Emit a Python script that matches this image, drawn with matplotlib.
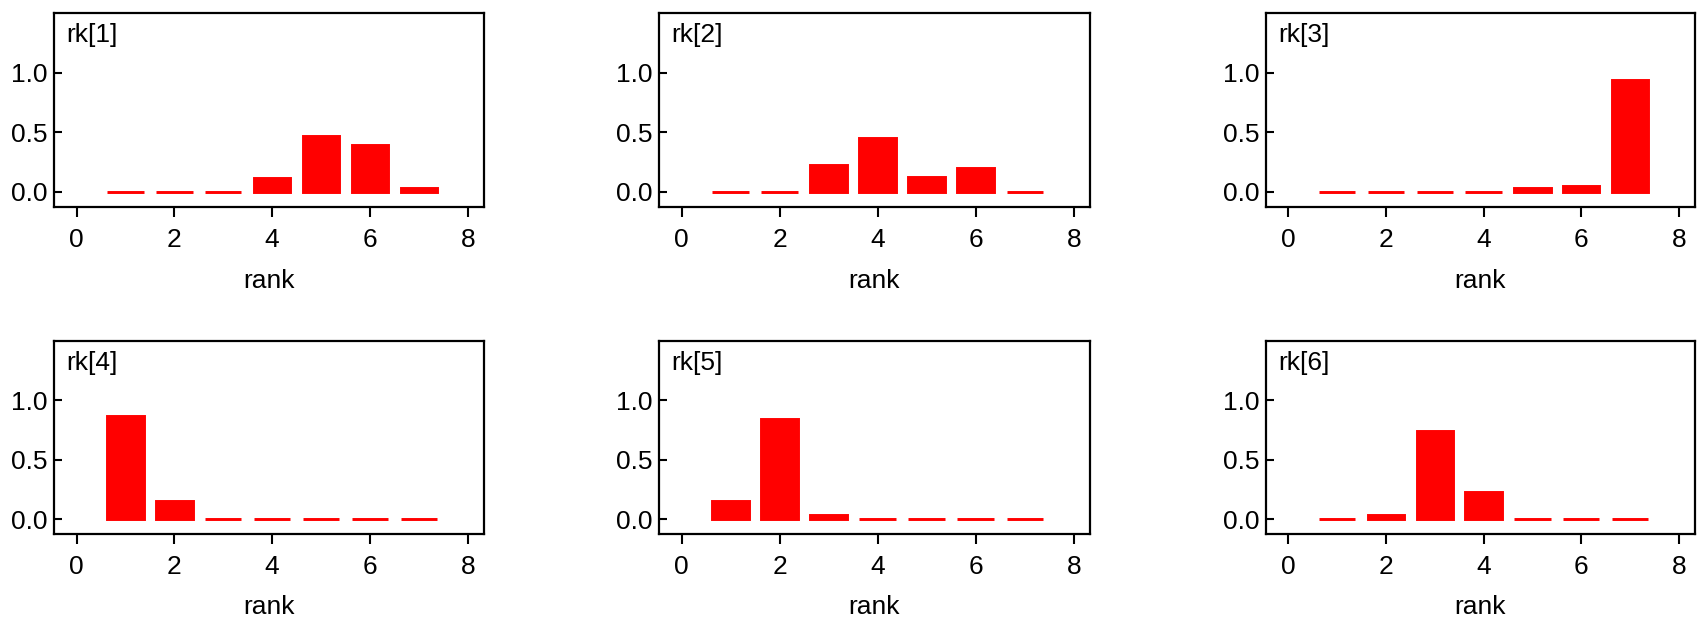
import matplotlib
matplotlib.use("Agg")
import matplotlib.pyplot as plt

plt.rcParams['font.family'] = ['Liberation Sans', 'DejaVu Sans']

# rank probabilities for each rk[i]
ranks = [1, 2, 3, 4, 5, 6, 7]
titles = ['rk[1]', 'rk[2]', 'rk[3]', 'rk[4]', 'rk[5]', 'rk[6]']
rk1 = [0.0, 0.0, 0.0, 0.12, 0.47, 0.39, 0.03]
rk2 = [0.0, 0.0, 0.225, 0.455, 0.125, 0.20, 0.0]
rk3 = [0.0, 0.0, 0.0, 0.0, 0.03, 0.048, 0.935]
rk4 = [0.87, 0.15, 0.0, 0.0, 0.0, 0.0, 0.0]
rk5 = [0.15, 0.84, 0.03, 0.0, 0.0, 0.0, 0.0]
rk6 = [0.0, 0.03, 0.74, 0.23, 0.0, 0.0, 0.0]
series = [rk1, rk2, rk3, rk4, rk5, rk6]

W, H = 1698, 621
fig = plt.figure(figsize=(W / 100, H / 100), dpi=100)

# axes boxes in pixels: (left, top, right, bottom)
col_x = [(54, 484), (659, 1090), (1266, 1695)]
row_y = [(13, 207), (341, 534)]

fs = 19
for i, (title, vals) in enumerate(zip(titles, series)):
    r, c = divmod(i, 3)
    x0, x1 = col_x[c]
    y0, y1 = row_y[r]
    ax = fig.add_axes([x0 / W, (H - y1) / H, (x1 - x0) / W, (y1 - y0) / H])
    ax.bar(ranks, vals, width=0.745, color='#ff0000', edgecolor='#ff0000', linewidth=2.1)
    ax.set_xlim(-0.46, 8.33)
    ax.set_ylim(-0.126, 1.50)
    ax.set_xticks([0, 2, 4, 6, 8])
    ax.set_yticks([0.0, 0.5, 1.0])
    ax.set_yticklabels(['0.0', '0.5', '1.0'])
    ax.tick_params(axis='x', direction='out', length=7, width=1.5, pad=8, labelsize=fs)
    ax.tick_params(axis='y', direction='in', length=6, width=1.5, pad=5, labelsize=fs)
    for sp in ax.spines.values():
        sp.set_linewidth(1.6)
    ax.set_xlabel('rank', fontsize=fs, labelpad=12)
    ax.annotate(title, xy=(0, 1), xycoords='axes fraction', xytext=(9, -7),
                textcoords='offset points', ha='left', va='top', fontsize=fs)

fig.savefig('out.png', dpi=100)
